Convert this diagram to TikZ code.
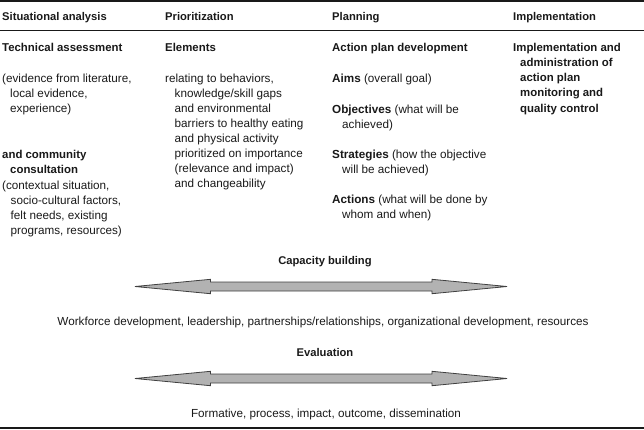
\documentclass[tikz,border=0pt]{standalone}
\usepackage{fontspec}
\setmainfont{Liberation Sans}
\begin{document}
\begin{tikzpicture}[x=1pt,y=-1pt,
  hd/.style={anchor=base west,inner sep=0pt,font=\fontsize{11.2}{13}\selectfont\bfseries,text=black!90},
  tx/.style={anchor=base west,inner sep=0pt,font=\fontsize{11.7}{13}\selectfont,text=black!90},
  bx/.style={tx,font=\fontsize{11.4}{13}\selectfont\bfseries},
  ctr/.style={tx,anchor=base},
  cbx/.style={hd,anchor=base},
  rule/.style={draw=black!90},
  arrowshape/.style={draw=black!75,fill=black!30,line width=0.8pt,line join=miter}]
\useasboundingbox (0,0) rectangle (644,429);
% rules
\draw[rule,line width=1.8pt] (0,1) -- (644,1);
\draw[rule,line width=1.1pt] (0,30.5) -- (644,30.5);
\draw[rule,line width=1.8pt] (0,428) -- (644,428);
% headers
\node[hd] (h1) at (2,20) {Situational analysis};
\node[hd] (h2) at (165,20) {Prioritization};
\node[hd] (h3) at (332,20) {Planning};
\node[hd] (h4) at (513,20) {Implementation};
% column 1
\node[bx] (a0) at (2,51) {Technical assessment};
\node[tx] (a1) at (2,82.5) {(evidence from literature,};
\node[tx] (a2) at (10,97.5) {local evidence,};
\node[tx] (a3) at (10,112.5) {experience)};
\node[bx] (a4) at (2,158.5) {and community};
\node[bx] (a5) at (10,173.5) {consultation};
\node[tx] (a6) at (2,189.5) {(contextual situation,};
\node[tx] (a7) at (10.5,204.5) {socio-cultural factors,};
\node[tx] (a8) at (10.5,219.5) {felt needs, existing};
\node[tx] (a9) at (10.5,234.5) {programs, resources)};
% column 2
\node[bx] (b0) at (165,51) {Elements};
\node[tx] (b1) at (165,82.5) {relating to behaviors,};
\node[tx] (b2) at (174.5,97.5) {knowledge/skill gaps};
\node[tx] (b3) at (174.5,112.5) {and environmental};
\node[tx] (b4) at (174.5,127.5) {barriers to healthy eating};
\node[tx] (b5) at (174.5,142.5) {and physical activity};
\node[tx] (b6) at (174.5,157.5) {prioritized on importance};
\node[tx] (b7) at (174.5,172.5) {(relevance and impact)};
\node[tx] (b8) at (174.5,187.5) {and changeability};
% column 3
\node[bx] (c0) at (332,51) {Action plan development};
\node[tx] (c1) at (332,82.5) {\textbf{Aims} (overall goal)};
\node[tx] (c2) at (332,113.5) {\textbf{Objectives} (what will be};
\node[tx] (c3) at (342,128.5) {achieved)};
\node[tx] (c4) at (332,158.5) {\textbf{Strategies} (how the objective};
\node[tx] (c5) at (342,173.5) {will be achieved)};
\node[tx] (c6) at (332,203.5) {\textbf{Actions} (what will be done by};
\node[tx] (c7) at (342,218.5) {whom and when)};
% column 4
\node[bx] (d0) at (513,51) {Implementation and};
\node[bx] (d1) at (520,66.3) {administration of};
\node[bx] (d2) at (520,81.6) {action plan};
\node[bx] (d3) at (520,96.9) {monitoring and};
\node[bx] (d4) at (520,112.2) {quality control};
% bottom part
\node[cbx] (cap) at (325,264.5) {Capacity building};
\node[ctr] (capt) at (323,325.5) {Workforce development, leadership, partnerships/relationships, organizational development, resources};
\node[cbx] (ev) at (325,356.5) {Evaluation};
\node[ctr] (evt) at (326,417.5) {Formative, process, impact, outcome, dissemination};
% double arrows
\foreach \c in {286.5,378.5}{
  \draw[arrowshape] (135,\c) -- (210.5,\c-7.2) -- (210.5,\c-4.5) -- (432,\c-4.5) -- (432,\c-7.2)
    -- (507,\c) -- (432,\c+7.2) -- (432,\c+4.5) -- (210.5,\c+4.5) -- (210.5,\c+7.2) -- cycle;
}
\end{tikzpicture}
\end{document}
